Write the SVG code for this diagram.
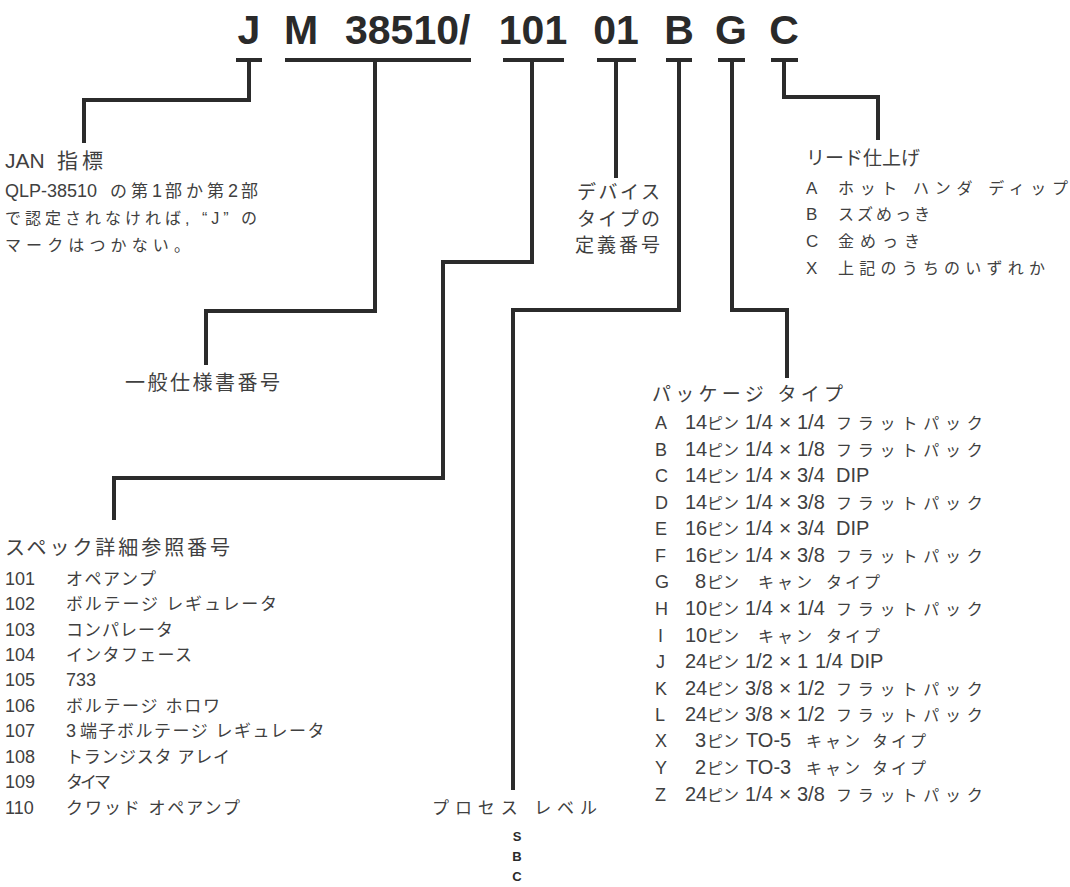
<svg xmlns="http://www.w3.org/2000/svg" width="1070" height="887" viewBox="0 0 1070 887">
<style>
.bg{fill:#ffffff}
.h{font-family:"Liberation Sans",Arial,sans-serif;font-weight:bold;font-size:41px;fill:#2a2a2a}
.t{font-family:"Liberation Sans","Noto Sans CJK JP",sans-serif;fill:#404040}
.s16{font-size:16px}
.s17{font-size:17px}
.s18{font-size:18px}
.s19{font-size:19px}
.s20{font-size:20px}
.n{font-size:20px}
.x{font-size:21px}
.k{font-size:16px}
.fp{font-size:16px;letter-spacing:5.8px}
.ct{font-size:16px;letter-spacing:3px}
.lv{font-family:"Liberation Sans",Arial,sans-serif;font-weight:bold;font-size:13px;fill:#2a2a2a}
.c{fill:none;stroke:#2b2b2b;stroke-width:4;stroke-linejoin:miter;stroke-linecap:butt}
</style>
<rect class="bg" x="0" y="0" width="1070" height="887"/>
<g id="code">
<text class="h" x="249" y="44" text-anchor="middle">J</text>
<text class="h" x="301" y="44" text-anchor="middle">M</text>
<text class="h" x="345" y="44">38510/</text>
<text class="h" x="533" y="44" text-anchor="middle">101</text>
<text class="h" x="616" y="44" text-anchor="middle">01</text>
<text class="h" x="679" y="44" text-anchor="middle">B</text>
<text class="h" x="731" y="44" text-anchor="middle">G</text>
<text class="h" x="784" y="44" text-anchor="middle">C</text>
</g>
<g id="connectors">
<path class="c" d="M236 60H262M249 60V100H84V143"/>
<path class="c" d="M285 60H471M375 60V311H206V365"/>
<path class="c" d="M503 60H564M532 60V262H443V478H114V520"/>
<path class="c" d="M597 60H636M616 60V178"/>
<path class="c" d="M666 60H692M679 60V310H513V790"/>
<path class="c" d="M718 60H745M732 60V310H787V378"/>
<path class="c" d="M771 60H798M784 60V97H878V140"/>
</g>
<g id="jan">
<text class="t" x="5" y="168"><tspan style="font-size:21px">JAN</tspan><tspan x="57" style="font-size:21px;letter-spacing:4px">指標</tspan></text>
<text class="t" x="5" y="197"><tspan class="s18">QLP-38510</tspan><tspan x="110" class="s17" style="letter-spacing:4px">の第</tspan><tspan class="s18" style="letter-spacing:3px">1</tspan><tspan class="s17" style="letter-spacing:4px">部か第</tspan><tspan class="s18" style="letter-spacing:3px">2</tspan><tspan class="s17">部</tspan></text>
<text class="t s16" x="5" y="224" textLength="252" lengthAdjust="spacing">で認定されなければ, “J” の</text>
<text class="t s16" x="5" y="251" textLength="185" lengthAdjust="spacing">マークはつかない。</text>
</g>
<g id="general">
<text class="t s20" x="125" y="390" textLength="155" lengthAdjust="spacing">一般仕様書番号</text>
</g>
<g id="device">
<text class="t s19" x="577" y="199" textLength="83" lengthAdjust="spacing">デバイス</text>
<text class="t s19" x="577" y="226" textLength="83" lengthAdjust="spacing">タイプの</text>
<text class="t s19" x="575" y="252" textLength="85" lengthAdjust="spacing">定義番号</text>
</g>
<g id="lead">
<text class="t s19" x="806" y="165" textLength="114" lengthAdjust="spacing">リード仕上げ</text>
<text class="t s17" x="806" y="194">A</text>
<text class="t s16" x="838" y="194" textLength="230" lengthAdjust="spacing">ホット ハンダ ディップ</text>
<text class="t s17" x="806" y="220">B</text>
<text class="t s16" x="838" y="220" textLength="92" lengthAdjust="spacing">スズめっき</text>
<text class="t s17" x="806" y="247">C</text>
<text class="t s16" x="838" y="247" textLength="82" lengthAdjust="spacing">金めっき</text>
<text class="t s17" x="806" y="274">X</text>
<text class="t s16" x="838" y="274" textLength="207" lengthAdjust="spacing">上記のうちのいずれか</text>
</g>
<g id="spec">
<text class="t s20" x="5" y="555" textLength="225" lengthAdjust="spacing">スペック詳細参照番号</text>
<text class="t s18" x="5" y="585">101</text><text class="t s17" x="66" y="585" textLength="90" lengthAdjust="spacing">オペアンプ</text>
<text class="t s18" x="5" y="610">102</text><text class="t s17" x="66" y="610" textLength="211" lengthAdjust="spacing">ボルテージ レギュレータ</text>
<text class="t s18" x="5" y="636">103</text><text class="t s17" x="66" y="636" textLength="107" lengthAdjust="spacing">コンパレータ</text>
<text class="t s18" x="5" y="661">104</text><text class="t s17" x="66" y="661" textLength="126" lengthAdjust="spacing">インタフェース</text>
<text class="t s18" x="5" y="686">105</text><text class="t s18" x="66" y="686">733</text>
<text class="t s18" x="5" y="712">106</text><text class="t s17" x="66" y="712" textLength="154" lengthAdjust="spacing">ボルテージ ホロワ</text>
<text class="t s18" x="5" y="737">107</text><text class="t" x="66" y="737"><tspan class="s18">3</tspan><tspan x="80" class="s17" style="letter-spacing:1.5px">端子ボルテージ レギュレータ</tspan></text>
<text class="t s18" x="5" y="763">108</text><text class="t s17" x="66" y="763" textLength="164" lengthAdjust="spacing">トランジスタ アレイ</text>
<text class="t s18" x="5" y="788">109</text><text class="t s17" x="66" y="788" textLength="45" lengthAdjust="spacing">タイマ</text>
<text class="t s18" x="5" y="814">110</text><text class="t s17" x="66" y="814" textLength="174" lengthAdjust="spacing">クワッド オペアンプ</text>
</g>
<g id="package">
<text class="t s19" x="652" y="401" textLength="191" lengthAdjust="spacing">パッケージ タイプ</text>
<text class="t" y="429"><tspan x="655" class="s18">A</tspan><tspan x="685" class="n">14</tspan><tspan x="707" class="k">ピン</tspan><tspan x="745" class="n">1/4</tspan><tspan x="779" class="x">×</tspan><tspan x="797" class="n">1/4</tspan><tspan x="836" class="fp">フラットパック</tspan></text>
<text class="t" y="456"><tspan x="655" class="s18">B</tspan><tspan x="685" class="n">14</tspan><tspan x="707" class="k">ピン</tspan><tspan x="745" class="n">1/4</tspan><tspan x="779" class="x">×</tspan><tspan x="797" class="n">1/8</tspan><tspan x="836" class="fp">フラットパック</tspan></text>
<text class="t" y="482"><tspan x="655" class="s18">C</tspan><tspan x="685" class="n">14</tspan><tspan x="707" class="k">ピン</tspan><tspan x="745" class="n">1/4</tspan><tspan x="779" class="x">×</tspan><tspan x="797" class="n">3/4</tspan><tspan x="836" class="n">DIP</tspan></text>
<text class="t" y="509"><tspan x="655" class="s18">D</tspan><tspan x="685" class="n">14</tspan><tspan x="707" class="k">ピン</tspan><tspan x="745" class="n">1/4</tspan><tspan x="779" class="x">×</tspan><tspan x="797" class="n">3/8</tspan><tspan x="836" class="fp">フラットパック</tspan></text>
<text class="t" y="535"><tspan x="655" class="s18">E</tspan><tspan x="685" class="n">16</tspan><tspan x="707" class="k">ピン</tspan><tspan x="745" class="n">1/4</tspan><tspan x="779" class="x">×</tspan><tspan x="797" class="n">3/4</tspan><tspan x="836" class="n">DIP</tspan></text>
<text class="t" y="562"><tspan x="655" class="s18">F</tspan><tspan x="685" class="n">16</tspan><tspan x="707" class="k">ピン</tspan><tspan x="745" class="n">1/4</tspan><tspan x="779" class="x">×</tspan><tspan x="797" class="n">3/8</tspan><tspan x="836" class="fp">フラットパック</tspan></text>
<text class="t" y="588"><tspan x="655" class="s18">G</tspan><tspan x="695" class="n">8</tspan><tspan x="707" class="k">ピン</tspan><tspan x="758" class="ct">キャン</tspan><tspan x="826" class="ct">タイプ</tspan></text>
<text class="t" y="615"><tspan x="655" class="s18">H</tspan><tspan x="685" class="n">10</tspan><tspan x="707" class="k">ピン</tspan><tspan x="745" class="n">1/4</tspan><tspan x="779" class="x">×</tspan><tspan x="797" class="n">1/4</tspan><tspan x="836" class="fp">フラットパック</tspan></text>
<text class="t" y="642"><tspan x="658" class="s18">I</tspan><tspan x="685" class="n">10</tspan><tspan x="707" class="k">ピン</tspan><tspan x="758" class="ct">キャン</tspan><tspan x="826" class="ct">タイプ</tspan></text>
<text class="t" y="668"><tspan x="656" class="s18">J</tspan><tspan x="685" class="n">24</tspan><tspan x="707" class="k">ピン</tspan><tspan x="745" class="n">1/2</tspan><tspan x="779" class="x">×</tspan><tspan x="797" class="n">1</tspan><tspan x="815" class="n">1/4</tspan><tspan x="850" class="n">DIP</tspan></text>
<text class="t" y="695"><tspan x="655" class="s18">K</tspan><tspan x="685" class="n">24</tspan><tspan x="707" class="k">ピン</tspan><tspan x="745" class="n">3/8</tspan><tspan x="779" class="x">×</tspan><tspan x="797" class="n">1/2</tspan><tspan x="836" class="fp">フラットパック</tspan></text>
<text class="t" y="721"><tspan x="655" class="s18">L</tspan><tspan x="685" class="n">24</tspan><tspan x="707" class="k">ピン</tspan><tspan x="745" class="n">3/8</tspan><tspan x="779" class="x">×</tspan><tspan x="797" class="n">1/2</tspan><tspan x="836" class="fp">フラットパック</tspan></text>
<text class="t" y="747"><tspan x="655" class="s18">X</tspan><tspan x="695" class="n">3</tspan><tspan x="707" class="k">ピン</tspan><tspan x="746" class="n">TO-5</tspan><tspan x="806" class="ct">キャン</tspan><tspan x="872" class="ct">タイプ</tspan></text>
<text class="t" y="774"><tspan x="655" class="s18">Y</tspan><tspan x="695" class="n">2</tspan><tspan x="707" class="k">ピン</tspan><tspan x="746" class="n">TO-3</tspan><tspan x="806" class="ct">キャン</tspan><tspan x="872" class="ct">タイプ</tspan></text>
<text class="t" y="801"><tspan x="655" class="s18">Z</tspan><tspan x="685" class="n">24</tspan><tspan x="707" class="k">ピン</tspan><tspan x="745" class="n">1/4</tspan><tspan x="779" class="x">×</tspan><tspan x="797" class="n">3/8</tspan><tspan x="836" class="fp">フラットパック</tspan></text>
</g>
<g id="process">
<text class="t s17" x="432" y="814" textLength="165" lengthAdjust="spacing">プロセス レベル</text>
<text class="lv" x="517" y="841" text-anchor="middle">S</text>
<text class="lv" x="517" y="861" text-anchor="middle">B</text>
<text class="lv" x="517" y="881" text-anchor="middle">C</text>
</g>
</svg>
